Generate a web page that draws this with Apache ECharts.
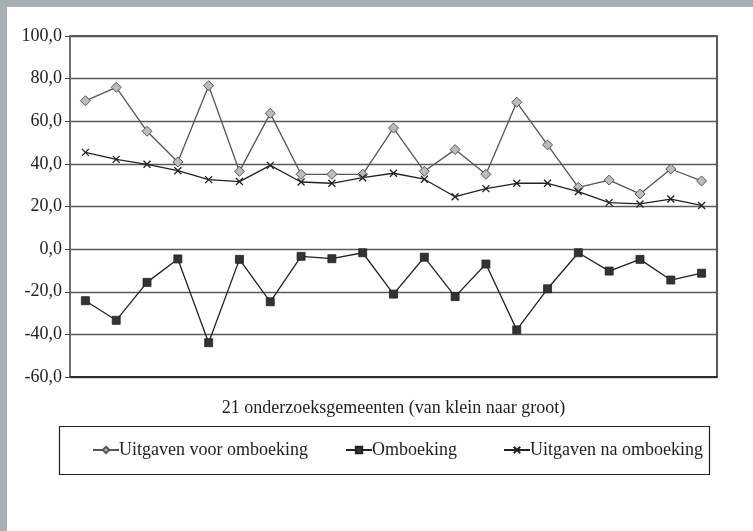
<!DOCTYPE html>
<html>
<head>
<meta charset="utf-8">
<script src="https://cdn.jsdelivr.net/npm/echarts@6/dist/echarts.min.js"></script>
<style>
html,body{margin:0;padding:0;background:#a8afb3;}
#c{width:753px;height:531px;}
</style>
</head>
<body>
<div id="c"></div>
<script>
var categories = ['1','2','3','4','5','6','7','8','9','10','11','12','13','14','15','16','17','18','19','20','21'];
var uitgavenVoor = [69.6, 75.9, 55.3, 40.9, 76.7, 36.5, 63.7, 35.1, 35.1, 35.1, 56.8, 36.5, 46.7, 35.1, 68.9, 48.9, 29.0, 32.4, 25.9, 37.6, 32.0];
var omboeking = [-24.2, -33.4, -15.6, -4.6, -43.9, -4.8, -24.7, -3.4, -4.5, -1.7, -21.1, -3.8, -22.3, -7.0, -37.9, -18.6, -1.7, -10.3, -4.8, -14.5, -11.3];
var uitgavenNa = [45.4, 42.1, 39.8, 36.8, 32.6, 31.7, 39.3, 31.5, 30.9, 33.5, 35.6, 32.8, 24.6, 28.4, 30.9, 30.9, 27.0, 21.8, 21.2, 23.5, 20.5];
var seriesNames = ['Uitgaven voor omboeking', 'Omboeking', 'Uitgaven na omboeking'];
var xAxisTitle = '21 onderzoeksgemeenten (van klein naar groot)';

var FONT = '"Liberation Serif", "DejaVu Serif", serif';
var legendLefts = [92, 345, 503];
function mkLegend(i) {
  return {
    data: [seriesNames[i]],
    left: legendLefts[i], top: 441,
    itemWidth: 26, itemHeight: 8, itemGap: 0,
    textStyle: {fontFamily: FONT, fontSize: 18, color: '#222', padding: [0,0,0,-5]},
    borderWidth: 0, padding: 0
  };
}
var chart = echarts.init(document.getElementById('c'), null, {renderer: 'canvas'});
chart.setOption({
  animation: false,
  backgroundColor: 'transparent',
  textStyle: {fontFamily: FONT},
  graphic: [
    {type: 'rect', z: -10, shape: {x: 7, y: 7, width: 746, height: 524}, style: {fill: '#ffffff'}},
    {type: 'rect', z: 10, shape: {x: 59.5, y: 426.5, width: 650, height: 48}, style: {fill: 'none', stroke: '#222', lineWidth: 1.2}}
  ],
  grid: {left: 70, right: 36, top: 36, bottom: 154, show: true, borderColor: '#222', borderWidth: 1.5, backgroundColor: 'transparent'},
  legend: [mkLegend(0), mkLegend(1), mkLegend(2)],
  xAxis: {
    type: 'category', data: categories, boundaryGap: true,
    axisLine: {show: true, onZero: false, lineStyle: {color: '#222', width: 1.5}},
    axisTick: {show: false}, axisLabel: {show: false},
    name: xAxisTitle, nameLocation: 'middle', nameGap: 22,
    nameTextStyle: {fontFamily: FONT, fontSize: 18, color: '#222'}
  },
  yAxis: {
    type: 'value', min: -60, max: 100, interval: 20,
    axisLine: {show: true, lineStyle: {color: '#777', width: 1.5}},
    axisTick: {show: true, length: 5, lineStyle: {color: '#444'}},
    axisLabel: {fontFamily: FONT, fontSize: 18, color: '#222', margin: 8,
      formatter: function (v) { return v.toFixed(1).replace('.', ','); }},
    splitLine: {show: true, lineStyle: {color: '#5a5a5a', width: 1.3}}
  },
  series: [
    {
      name: seriesNames[0], type: 'line', data: uitgavenVoor,
      symbol: 'diamond', symbolSize: 10, showSymbol: true,
      lineStyle: {color: '#555', width: 1.3},
      itemStyle: {color: '#b9bdc1', borderColor: '#555', borderWidth: 1}
    },
    {
      name: seriesNames[1], type: 'line', data: omboeking,
      symbol: 'rect', symbolSize: 8,
      lineStyle: {color: '#222', width: 1.3},
      itemStyle: {color: '#333', borderColor: '#222', borderWidth: 0.8}
    },
    {
      name: seriesNames[2], type: 'line', data: uitgavenNa,
      symbol: 'path://M0,0L10,10M10,0L0,10', symbolSize: 7,
      lineStyle: {color: '#222', width: 1.3},
      itemStyle: {color: '#222', borderColor: '#222', borderWidth: 1.3}
    }
  ]
});
</script>
</body>
</html>
